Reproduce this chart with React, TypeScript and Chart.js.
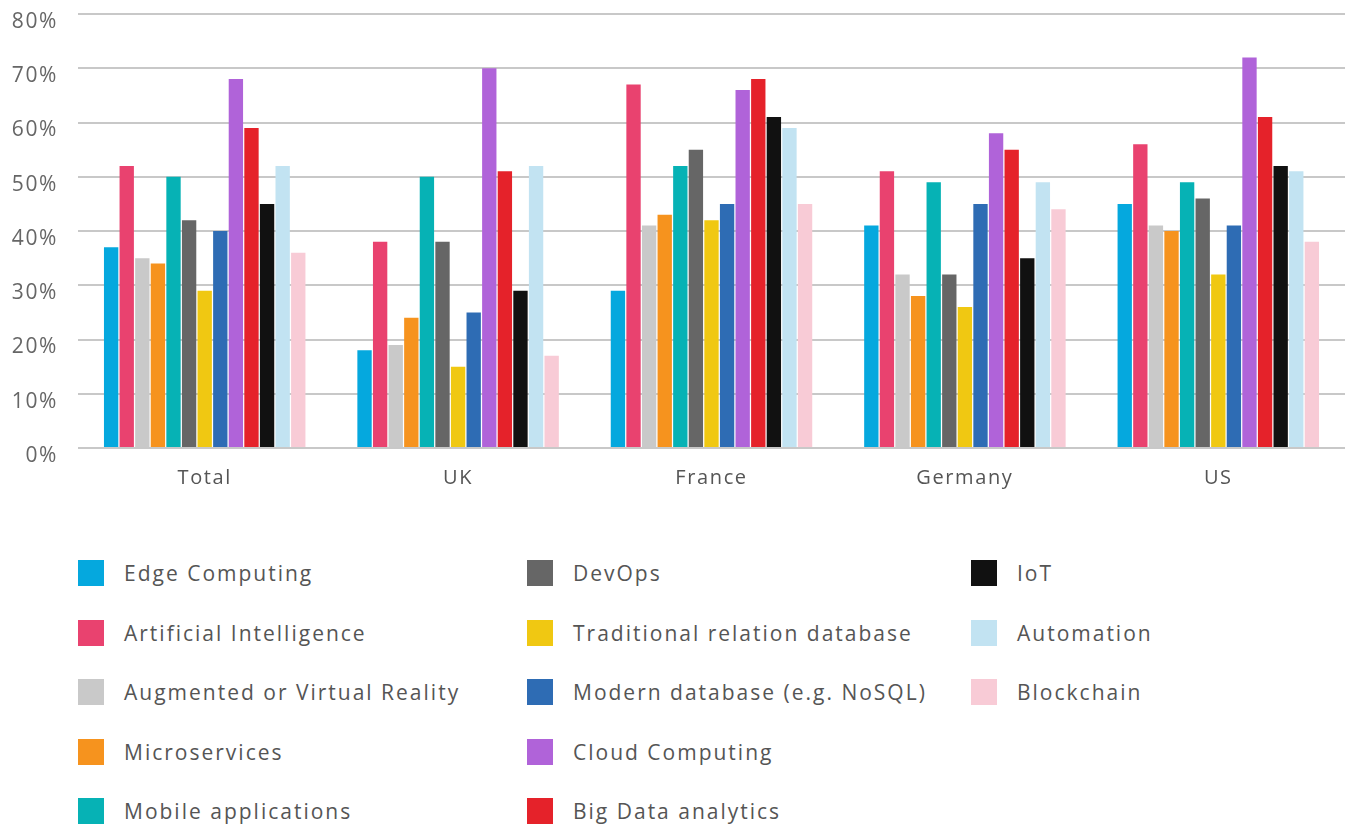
import React, { useEffect, useRef } from "react";
import { Chart, registerables } from "chart.js";

Chart.register(...registerables);

// ---- Data ----
const categories = ["Total", "UK", "France", "Germany", "US"];

const seriesNames = [
  "Edge Computing",
  "Artificial Intelligence",
  "Augmented or Virtual Reality",
  "Microservices",
  "Mobile applications",
  "DevOps",
  "Traditional relation database",
  "Modern database (e.g. NoSQL)",
  "Cloud Computing",
  "Big Data analytics",
  "IoT",
  "Automation",
  "Blockchain",
];

const edgeComputing = [37, 18, 29, 41, 45];
const artificialIntelligence = [52, 38, 67, 51, 56];
const augmentedVirtualReality = [35, 19, 41, 32, 41];
const microservices = [34, 24, 43, 28, 40];
const mobileApplications = [50, 50, 52, 49, 49];
const devOps = [42, 38, 55, 32, 46];
const traditionalDatabase = [29, 15, 42, 26, 32];
const modernDatabase = [40, 25, 45, 45, 41];
const cloudComputing = [68, 70, 66, 58, 72];
const bigDataAnalytics = [59, 51, 68, 55, 61];
const iot = [45, 29, 61, 35, 52];
const automation = [52, 52, 59, 49, 51];
const blockchain = [36, 17, 45, 44, 38];

const seriesValues = [
  edgeComputing,
  artificialIntelligence,
  augmentedVirtualReality,
  microservices,
  mobileApplications,
  devOps,
  traditionalDatabase,
  modernDatabase,
  cloudComputing,
  bigDataAnalytics,
  iot,
  automation,
  blockchain,
];

const seriesColors = [
  "#05a8de",
  "#e9426f",
  "#c9c9c9",
  "#f6931e",
  "#06b2b5",
  "#666666",
  "#f0c812",
  "#2e6cb4",
  "#b063d9",
  "#e5222a",
  "#111111",
  "#c2e3f2",
  "#f8cbd6",
];

const yMin = 0;
const yMax = 80;
const yStep = 10;

// legend columns (indices into series), column-major as in the reference
const legendColumns = [
  [0, 1, 2, 3, 4],
  [5, 6, 7, 8, 9],
  [10, 11, 12],
];

const FONT = "'Open Sans', 'DejaVu Sans', sans-serif";

const spacingPlugin = {
  id: "letterSpacing",
  beforeDraw(chart: any) {
    (chart.ctx as any).letterSpacing = "1.6px";
  },
};

export default function App() {
  const canvasRef = useRef<HTMLCanvasElement | null>(null);

  useEffect(() => {
    if (!canvasRef.current) return;
    const chart = new Chart(canvasRef.current, {
      type: "bar",
      data: {
        labels: categories,
        datasets: seriesNames.map((name, i) => ({
          label: name,
          data: seriesValues[i],
          backgroundColor: seriesColors[i],
          borderWidth: 0,
          categoryPercentage: 0.8,
          barPercentage: 0.92,
        })),
      },
      options: {
        animation: false,
        responsive: false,
        maintainAspectRatio: false,
        layout: { padding: { top: 14, right: 12, left: 0, bottom: 0 } },
        plugins: {
          legend: { display: false },
          tooltip: { enabled: false },
        },
        scales: {
          x: {
            grid: { display: false, drawTicks: false },
            border: { display: false },
            ticks: {
              color: "#555555",
              font: { family: FONT, size: 20 },
              padding: 18,
            },
            afterFit: (s: any) => {
              s.height = 52;
            },
          },
          y: {
            min: yMin,
            max: yMax,
            grid: { color: "#c8c8c8", lineWidth: 2, drawTicks: false },
            border: { display: false },
            ticks: {
              stepSize: yStep,
              color: "#666666",
              font: { family: FONT, size: 21 },
              padding: 20,
              labelOffset: 8,
              callback: (v: any) => `${v}%`,
            },
            afterFit: (s: any) => {
              s.width = 78;
              s.paddingTop = 0;
              s.paddingBottom = 0;
            },
          },
        },
      },
      plugins: [spacingPlugin],
    } as any);
    return () => chart.destroy();
  }, []);

  const colX = [78, 527, 971];
  const rowTop0 = 560;
  const rowGap = 59.6;

  return (
    <div
      style={{
        position: "absolute",
        left: 0,
        top: 0,
        width: 1357,
        height: 827,
        background: "#ffffff",
        overflow: "hidden",
      }}
    >
      <canvas
        ref={canvasRef}
        width={1357}
        height={500}
        style={{ position: "absolute", left: 0, top: 0, width: 1357, height: 500 }}
      />
      {legendColumns.map((col, ci) =>
        col.map((idx, ri) => (
          <div
            key={`${ci}-${ri}`}
            style={{
              position: "absolute",
              left: colX[ci],
              top: rowTop0 + ri * rowGap,
              height: 26,
              display: "flex",
              alignItems: "center",
              whiteSpace: "nowrap",
            }}
          >
            <span
              style={{
                display: "inline-block",
                width: 26,
                height: 26,
                background: seriesColors[idx],
              }}
            />
            <span
              style={{
                marginLeft: 20,
                fontFamily: FONT,
                fontSize: 21,
                color: "#555555",
                letterSpacing: "2px",
              }}
            >
              {seriesNames[idx]}
            </span>
          </div>
        ))
      )}
    </div>
  );
}
